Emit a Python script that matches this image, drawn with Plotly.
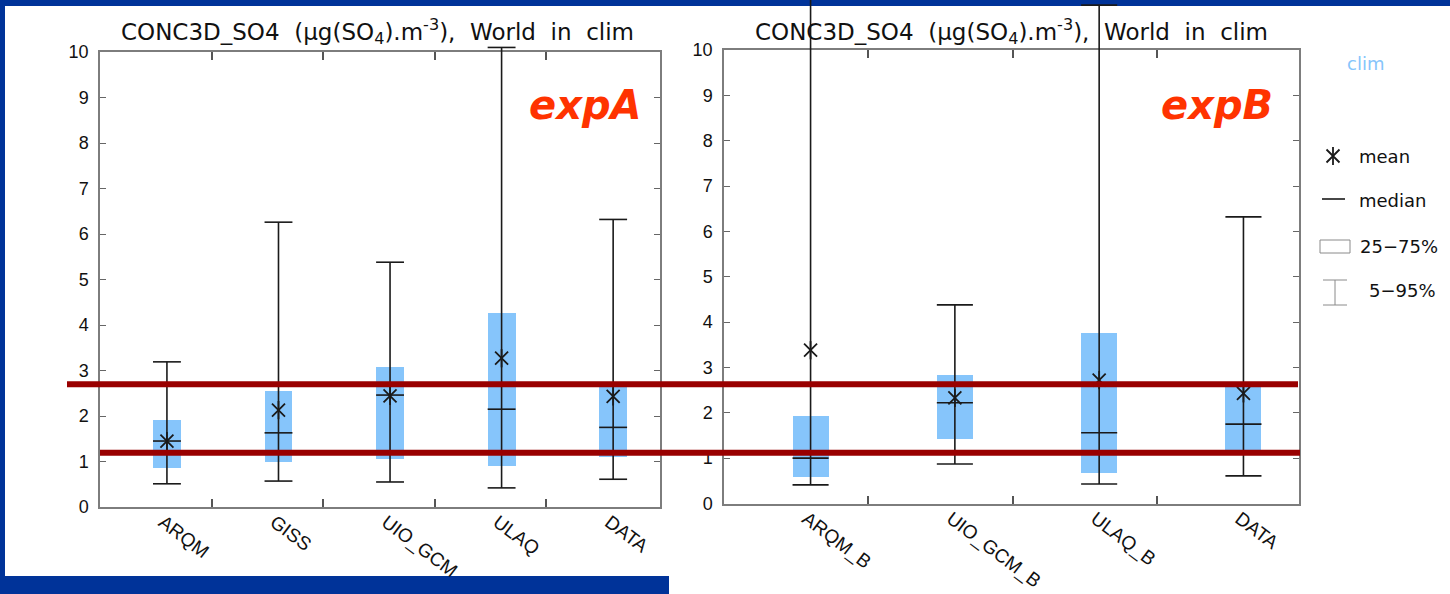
import plotly.graph_objects as go

W, H = 1450, 594

# ---------------- data: SO4 concentration statistics (µg SO4 / m3) ----------------
cats_a = ["ARQM", "GISS", "UIO_GCM", "ULAQ", "DATA"]
p05_a = [0.51, 0.57, 0.55, 0.42, 0.61]
p25_a = [0.86, 0.99, 1.05, 0.90, 1.10]
med_a = [1.45, 1.63, 2.46, 2.15, 1.75]
mean_a = [1.45, 2.13, 2.44, 3.27, 2.43]
p75_a = [1.91, 2.55, 3.08, 4.26, 2.64]
p95_a = [3.19, 6.26, 5.38, 10.10, 6.32]

cats_b = ["ARQM_B", "UIO_GCM_B", "ULAQ_B", "DATA"]
p05_b = [0.41, 0.87, 0.43, 0.61]
p25_b = [0.59, 1.42, 0.67, 1.10]
med_b = [1.00, 2.22, 1.56, 1.75]
mean_b = [3.38, 2.33, 2.72, 2.43]
p75_b = [1.93, 2.83, 3.77, 2.64]
p95_b = [12.0, 4.38, 10.99, 6.32]

# observed reference band (dark red lines across both panels)
ref_levels = [1.19, 2.70]

y_ticks = list(range(0, 11))

# ---------------- styling / layout ----------------
NAVY = "#003399"
BOX = "#86c5fb"
INK = "#1a1a1a"
FRAME = "#7d7d7d"
HALF = 0.125  # half width of boxes, caps and medians (category units)

# panel frames in pixels
PANELS = {
    "a": dict(x0=100, x1=660, top=52, bottom=507, xr=[-0.6, 4.42]),
    "b": dict(x0=724, x1=1299, top=50, bottom=503.5, xr=[-0.6, 3.385]),
}


def px(x):
    return x / W


def py(y):
    return 1 - y / H


fig = go.Figure()
layout = dict(
    width=W, height=H,
    margin=dict(l=0, r=0, t=0, b=0, pad=0, autoexpand=False),
    paper_bgcolor=NAVY, plot_bgcolor="rgba(0,0,0,0)",
    showlegend=False, bargap=0,
)

ax_ids = {"a": ("", "3"), "b": ("2", "4")}
sets = {
    "a": (cats_a, p05_a, p25_a, med_a, mean_a, p75_a, p95_a),
    "b": (cats_b, p05_b, p25_b, med_b, mean_b, p75_b, p95_b),
}

for key, P in PANELS.items():
    fid, did = ax_ids[key]
    cats, p05, p25, med, mean, p75, p95 = sets[key]
    n = len(cats)
    idx = list(range(n))
    xdom = [px(P["x0"]), px(P["x1"])]
    ydom = [py(P["bottom"]), py(P["top"])]
    # frame axes (ticks, labels, box)
    layout["xaxis" + fid] = dict(
        domain=xdom, range=P["xr"], anchor="y" + fid, automargin=False,
        tickmode="array", tickvals=idx, ticktext=cats, ticks="",
        tickangle=37, ticklabelstandoff=-5, ticklabelshift=-4,
        tickfont=dict(family="Liberation Sans", size=19, color="#111"),
        showline=True, linecolor=FRAME, linewidth=1.5, mirror="ticks",
        showgrid=False, zeroline=False, fixedrange=True,
        minor=dict(tickmode="array", tickvals=[i + 0.4 for i in idx[:-1]],
                   ticks="inside", ticklen=8, tickcolor="#555", tickwidth=1.5,
                   showgrid=False),
    )
    layout["yaxis" + fid] = dict(
        domain=ydom, range=[0, 10], anchor="x" + fid, automargin=False,
        tickmode="array", tickvals=y_ticks, ticks="inside", ticklen=6,
        tickcolor="#666", tickwidth=1.2, ticklabelstandoff=6,
        tickfont=dict(family="Liberation Sans", size=18, color="#111"),
        showline=True, linecolor=FRAME, linewidth=1.5, mirror="ticks",
        showgrid=False, zeroline=False, fixedrange=True,
    )
    # keep the frame subplot alive with an empty trace
    fig.add_trace(go.Scatter(x=[], y=[], xaxis="x" + fid, yaxis="y" + fid,
                             hoverinfo="skip"))
    # data axes: same scale, extended up to the top of the page so that
    # long whiskers are not cut at the frame
    ytop = 10 * P["bottom"] / (P["bottom"] - P["top"])
    layout["xaxis" + did] = dict(domain=xdom, range=P["xr"], anchor="y" + did,
                                 visible=False, fixedrange=True, automargin=False)
    layout["yaxis" + did] = dict(domain=[py(P["bottom"]), 1], range=[0, ytop],
                                 anchor="x" + did, visible=False, fixedrange=True,
                                 automargin=False)
    xa, ya = "x" + did, "y" + did

    # interquartile boxes
    fig.add_trace(go.Bar(
        x=idx, y=[h - l for l, h in zip(p25, p75)], base=p25, width=2 * HALF,
        marker=dict(color=BOX, line=dict(width=0)), xaxis=xa, yaxis=ya,
        hoverinfo="skip"))

    # whiskers with caps, and medians
    wx, wy = [], []
    for i in idx:
        wx += [i, i, None, i - HALF, i + HALF, None, i - HALF, i + HALF, None,
               i - HALF, i + HALF, None]
        wy += [p05[i], p95[i], None, p05[i], p05[i], None, p95[i], p95[i], None,
               med[i], med[i], None]
    fig.add_trace(go.Scatter(x=wx, y=wy, mode="lines",
                             line=dict(color=INK, width=1.6),
                             xaxis=xa, yaxis=ya, hoverinfo="skip"))

    # means drawn as asterisks
    for sym in ("x-thin", "line-ns"):
        fig.add_trace(go.Scatter(
            x=idx, y=mean, mode="markers", xaxis=xa, yaxis=ya, cliponaxis=False,
            marker=dict(symbol=sym, size=13, line=dict(color=INK, width=1.8)),
            hoverinfo="skip"))

# pixel overlay axes for the legend glyph
layout["xaxis5"] = dict(domain=[0, 1], range=[0, W], anchor="y5", visible=False,
                        fixedrange=True, automargin=False)
layout["yaxis5"] = dict(domain=[0, 1], range=[H, 0], anchor="x5", visible=False,
                        fixedrange=True, automargin=False)
for sym in ("x-thin", "line-ns"):
    fig.add_trace(go.Scatter(
        x=[1333], y=[156], mode="markers", xaxis="x5", yaxis="y5",
        marker=dict(symbol=sym, size=13, line=dict(color=INK, width=1.8)),
        hoverinfo="skip"))

shapes = [
    # white slide area over the navy frame
    dict(type="rect", xref="paper", yref="paper", x0=px(5), x1=1, y0=0, y1=py(6),
         fillcolor="white", line=dict(width=0), layer="below"),
    dict(type="rect", xref="paper", yref="paper", x0=0, x1=px(669), y0=0, y1=py(576),
         fillcolor=NAVY, line=dict(width=0), layer="below"),
    # legend glyphs
    dict(type="line", xref="paper", yref="paper", x0=px(1322), x1=px(1345),
         y0=py(199), y1=py(199), line=dict(color=INK, width=1.6)),
    dict(type="rect", xref="paper", yref="paper", x0=px(1320), x1=px(1350),
         y0=py(253), y1=py(240), line=dict(color="#8a8a8a", width=1)),
    dict(type="line", xref="paper", yref="paper", x0=px(1335), x1=px(1335),
         y0=py(305), y1=py(280), line=dict(color="#8a8a8a", width=1)),
    dict(type="line", xref="paper", yref="paper", x0=px(1323), x1=px(1347),
         y0=py(280), y1=py(280), line=dict(color="#8a8a8a", width=1)),
    dict(type="line", xref="paper", yref="paper", x0=px(1323), x1=px(1347),
         y0=py(305), y1=py(305), line=dict(color="#8a8a8a", width=1)),
]
# reference band lines spanning both panels
band_x = [(67, 1298), (100, 1300)]
for lvl, (xa0, xa1) in zip(sorted(ref_levels, reverse=True), band_x):
    shapes.append(dict(type="line", xref="paper", yref="y3", x0=px(xa0), x1=px(xa1),
                       y0=lvl, y1=lvl, line=dict(color="#990000", width=6),
                       layer="above"))
layout["shapes"] = shapes

title_txt = ("CONC3D_SO4  (μg(SO<sub>4</sub>).m<sup>-3</sup>),  World  in  clim")
ann = []
for cx in (378, 1011):
    ann.append(dict(text=title_txt, x=px(cx), y=py(32), xref="paper", yref="paper",
                    xanchor="center", yanchor="middle", showarrow=False,
                    font=dict(family="DejaVu Sans", size=23, color="#111")))
for label, cx in (("expA", 585), ("expB", 1217)):
    ann.append(dict(text=label, x=px(cx), y=py(105), xref="paper", yref="paper",
                    xanchor="center", yanchor="middle", showarrow=False,
                    font=dict(family="DejaVu Sans", size=40, color="#ff3300",
                              weight="bold", style="italic")))
ann.append(dict(text="clim", x=px(1365), y=py(64), xref="paper", yref="paper",
                xanchor="center", yanchor="middle", showarrow=False,
                font=dict(family="DejaVu Sans", size=18, color="#86c5fb")))
for label, lx, ly in (("mean", 1357, 156), ("median", 1357, 200),
                      ("25−75%", 1358, 246), ("5−95%", 1367, 291)):
    ann.append(dict(text=label, x=px(lx), y=py(ly), xref="paper", yref="paper",
                    xanchor="left", yanchor="middle", showarrow=False,
                    font=dict(family="DejaVu Sans", size=18, color="#111")))
layout["annotations"] = ann

fig.update_layout(**layout)
fig.write_html("out.html")
